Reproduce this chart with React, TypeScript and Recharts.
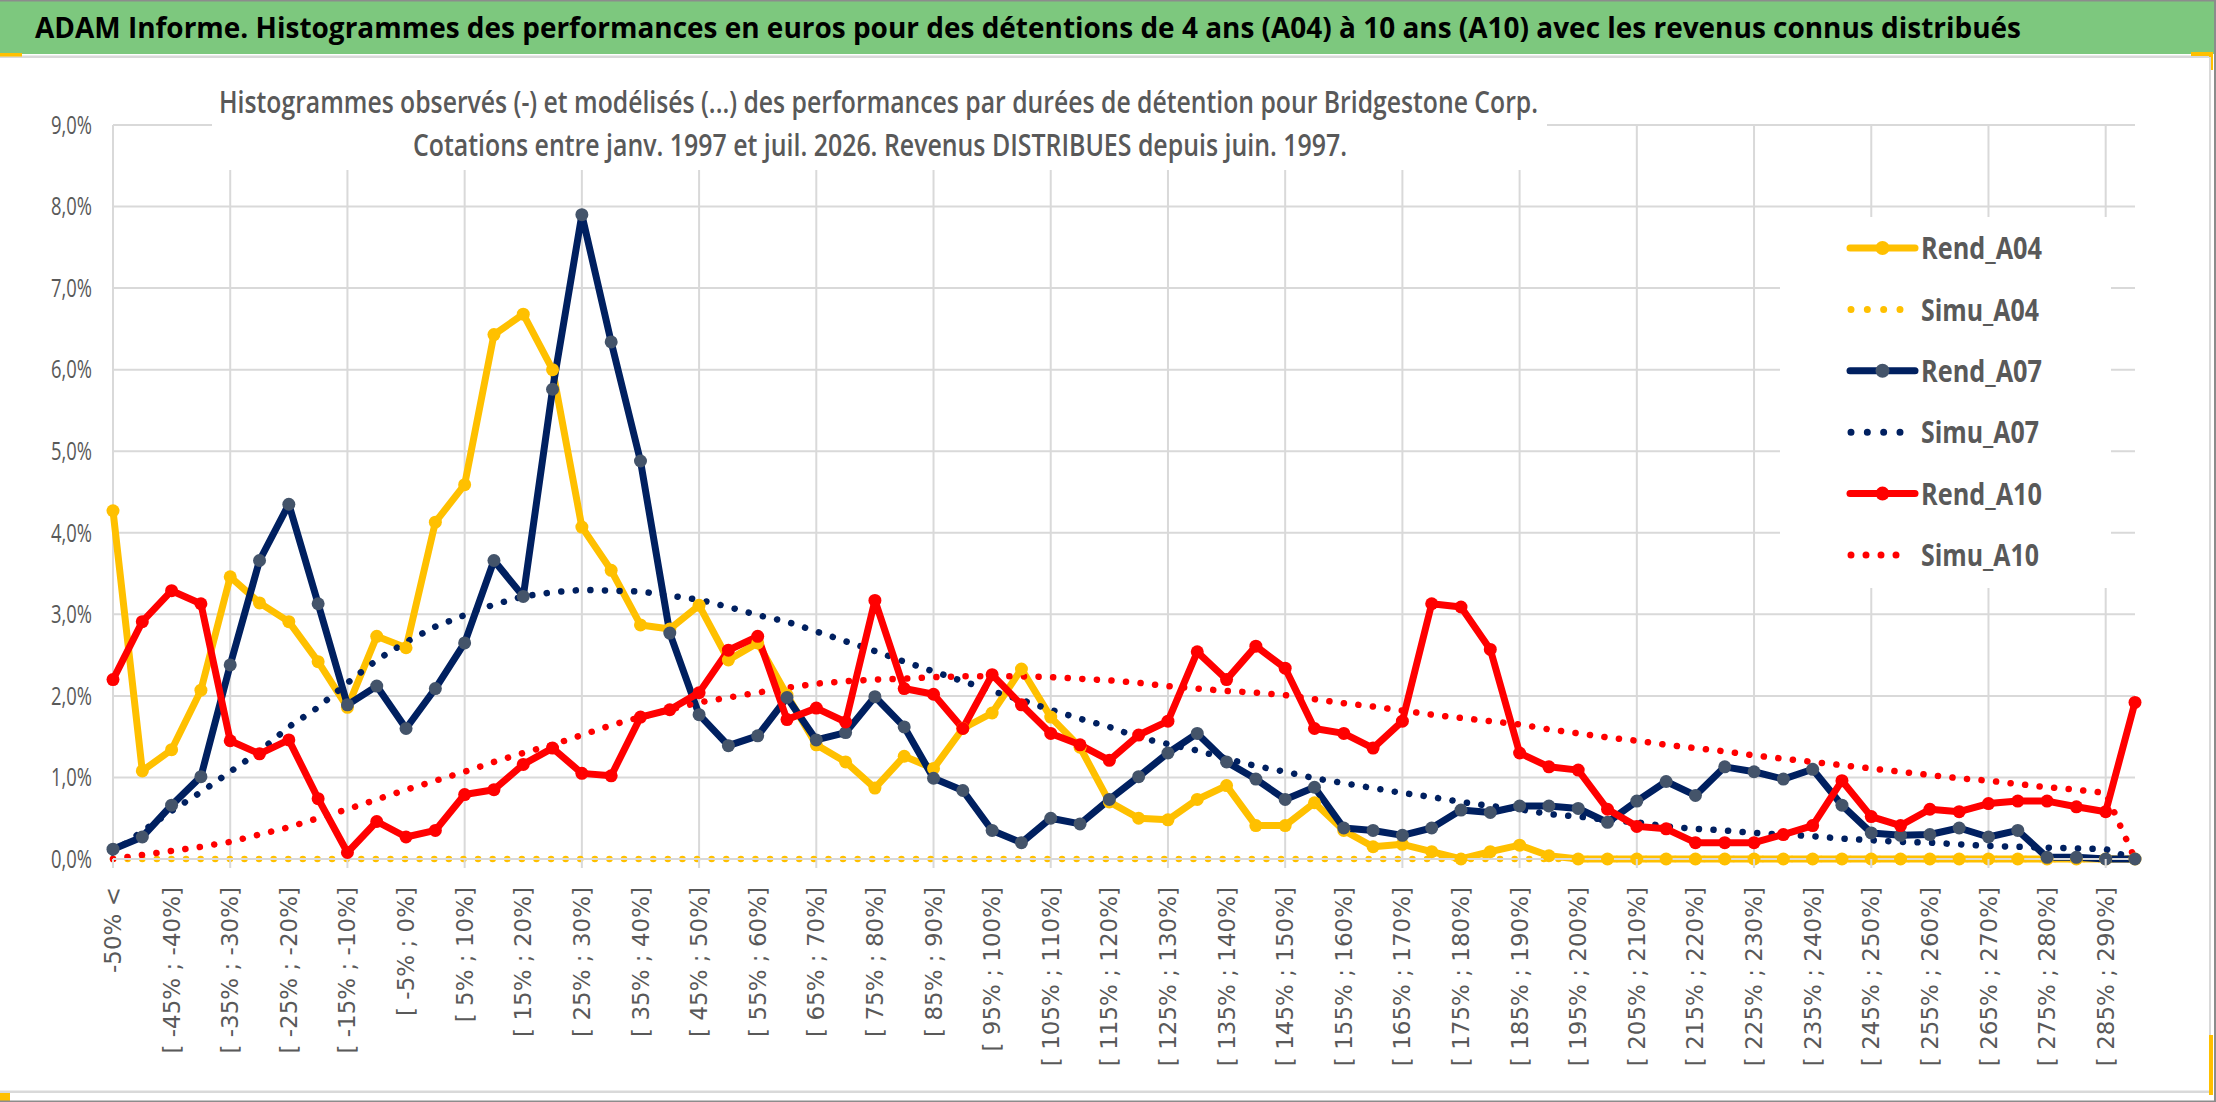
import React from 'react';
import { LineChart, Line, XAxis, YAxis, CartesianGrid, Legend } from 'recharts';

const categories = [
  '-50% <',
  '[ -50% ; -45%]', '[ -45% ; -40%]', '[ -40% ; -35%]', '[ -35% ; -30%]', '[ -30% ; -25%]',
  '[ -25% ; -20%]', '[ -20% ; -15%]', '[ -15% ; -10%]', '[ -10% ; -5%]', '[ -5% ; 0%]',
  '[ 0% ; 5%]', '[ 5% ; 10%]', '[ 10% ; 15%]', '[ 15% ; 20%]', '[ 20% ; 25%]',
  '[ 25% ; 30%]', '[ 30% ; 35%]', '[ 35% ; 40%]', '[ 40% ; 45%]', '[ 45% ; 50%]',
  '[ 50% ; 55%]', '[ 55% ; 60%]', '[ 60% ; 65%]', '[ 65% ; 70%]', '[ 70% ; 75%]',
  '[ 75% ; 80%]', '[ 80% ; 85%]', '[ 85% ; 90%]', '[ 90% ; 95%]', '[ 95% ; 100%]',
  '[ 100% ; 105%]', '[ 105% ; 110%]', '[ 110% ; 115%]', '[ 115% ; 120%]', '[ 120% ; 125%]',
  '[ 125% ; 130%]', '[ 130% ; 135%]', '[ 135% ; 140%]', '[ 140% ; 145%]', '[ 145% ; 150%]',
  '[ 150% ; 155%]', '[ 155% ; 160%]', '[ 160% ; 165%]', '[ 165% ; 170%]', '[ 170% ; 175%]',
  '[ 175% ; 180%]', '[ 180% ; 185%]', '[ 185% ; 190%]', '[ 190% ; 195%]', '[ 195% ; 200%]',
  '[ 200% ; 205%]', '[ 205% ; 210%]', '[ 210% ; 215%]', '[ 215% ; 220%]', '[ 220% ; 225%]',
  '[ 225% ; 230%]', '[ 230% ; 235%]', '[ 235% ; 240%]', '[ 240% ; 245%]', '[ 245% ; 250%]',
  '[ 250% ; 255%]', '[ 255% ; 260%]', '[ 260% ; 265%]', '[ 265% ; 270%]', '[ 270% ; 275%]',
  '[ 275% ; 280%]', '[ 280% ; 285%]', '[ 285% ; 290%]', '[ 290% ; 295%]',
];

const rendA04 = [
  4.27, 1.08, 1.34, 2.07, 3.46, 3.14, 2.91, 2.42, 1.86, 2.73,
  2.59, 4.13, 4.59, 6.43, 6.68, 6.00, 4.07, 3.54, 2.87, 2.82,
  3.11, 2.44, 2.65, 2.01, 1.40, 1.19, 0.87, 1.26, 1.11, 1.60,
  1.79, 2.33, 1.74, 1.37, 0.70, 0.50, 0.48, 0.73, 0.90, 0.41,
  0.41, 0.69, 0.35, 0.15, 0.18, 0.09, 0.00, 0.09, 0.17, 0.04,
  0.00, 0.00, 0.00, 0.00, 0.00, 0.00, 0.00, 0.00, 0.00, 0.00,
  0.00, 0.00, 0.00, 0.00, 0.00, 0.00, 0.00, 0.00, 0.00, 0.00,
];

const simuA04 = [
  0, 0, 0, 0, 0, 0, 0, 0, 0, 0,
  0, 0, 0, 0, 0, 0, 0, 0, 0, 0,
  0, 0, 0, 0, 0, 0, 0, 0, 0, 0,
  0, 0, 0, 0, 0, 0, 0, 0, 0, 0,
  0, 0, 0, 0, 0, 0, 0, 0, 0, 0,
  0, 0, 0, 0, 0, 0, 0, 0, 0, 0,
  0, 0, 0, 0, 0, 0, 0, 0, 0, 0,
];

const rendA07 = [
  0.12, 0.27, 0.66, 1.01, 2.38, 3.66, 4.35, 3.13, 1.89, 2.12,
  1.60, 2.09, 2.65, 3.66, 3.22, 5.76, 7.90, 6.34, 4.88, 2.77,
  1.77, 1.39, 1.51, 1.98, 1.46, 1.55, 1.99, 1.62, 0.99, 0.84,
  0.35, 0.20, 0.50, 0.43, 0.73, 1.01, 1.30, 1.54, 1.19, 0.98,
  0.73, 0.88, 0.38, 0.35, 0.29, 0.38, 0.60, 0.57, 0.65, 0.65,
  0.62, 0.45, 0.71, 0.95, 0.78, 1.13, 1.07, 0.98, 1.10, 0.66,
  0.32, 0.29, 0.30, 0.38, 0.27, 0.35, 0.02, 0.02, 0.00, 0.00,
];

const simuA07 = [
  0.08, 0.34, 0.59, 0.82, 1.07, 1.32, 1.62, 1.86, 2.16, 2.44,
  2.66, 2.85, 2.99, 3.12, 3.22, 3.27, 3.30, 3.29, 3.28, 3.23,
  3.18, 3.09, 2.99, 2.91, 2.79, 2.67, 2.55, 2.42, 2.30, 2.18,
  2.06, 1.95, 1.83, 1.72, 1.62, 1.49, 1.41, 1.33, 1.23, 1.14,
  1.07, 0.99, 0.93, 0.87, 0.81, 0.76, 0.70, 0.65, 0.61, 0.55,
  0.52, 0.48, 0.45, 0.40, 0.37, 0.35, 0.32, 0.30, 0.28, 0.25,
  0.23, 0.21, 0.20, 0.18, 0.16, 0.15, 0.14, 0.13, 0.12, 0.00,
];

const rendA10 = [
  2.20, 2.91, 3.29, 3.13, 1.45, 1.29, 1.46, 0.74, 0.08, 0.46,
  0.27, 0.35, 0.79, 0.85, 1.16, 1.36, 1.05, 1.02, 1.74, 1.83,
  2.04, 2.56, 2.73, 1.71, 1.85, 1.68, 3.17, 2.09, 2.02, 1.60,
  2.26, 1.89, 1.54, 1.40, 1.21, 1.52, 1.69, 2.54, 2.20, 2.61,
  2.34, 1.60, 1.54, 1.36, 1.69, 3.13, 3.09, 2.57, 1.30, 1.13,
  1.09, 0.61, 0.40, 0.37, 0.20, 0.20, 0.20, 0.30, 0.41, 0.96,
  0.52, 0.41, 0.61, 0.58, 0.68, 0.71, 0.71, 0.64, 0.58, 1.92,
];

const simuA10 = [
  0.00, 0.05, 0.10, 0.15, 0.21, 0.30, 0.39, 0.50, 0.61, 0.73,
  0.85, 0.96, 1.07, 1.19, 1.30, 1.40, 1.52, 1.64, 1.74, 1.83,
  1.92, 1.98, 2.04, 2.10, 2.15, 2.18, 2.20, 2.21, 2.23, 2.24,
  2.24, 2.24, 2.23, 2.21, 2.19, 2.16, 2.12, 2.09, 2.06, 2.04,
  2.01, 1.96, 1.91, 1.87, 1.82, 1.77, 1.73, 1.69, 1.65, 1.59,
  1.54, 1.49, 1.45, 1.40, 1.36, 1.32, 1.27, 1.23, 1.19, 1.15,
  1.11, 1.07, 1.03, 0.99, 0.96, 0.92, 0.88, 0.85, 0.81, 0.00,
];

const yTicks = [0, 1, 2, 3, 4, 5, 6, 7, 8, 9];

const titleText =
  'ADAM Informe. Histogrammes des performances en euros pour des détentions de 4 ans (A04) à 10 ans (A10) avec les revenus connus distribués';
const subtitle1 =
  'Histogrammes observés (-) et modélisés (...) des performances par durées de détention pour Bridgestone Corp.';
const subtitle2 = 'Cotations entre janv. 1997 et juil. 2026. Revenus DISTRIBUES depuis juin. 1997.';

const data = categories.map((cat, i) => ({
  cat,
  Rend_A04: rendA04[i],
  Simu_A04: simuA04[i],
  Rend_A07: rendA07[i],
  Simu_A07: simuA07[i],
  Rend_A10: rendA10[i],
  Simu_A10: simuA10[i],
}));

const W = 2216;
const H = 1102;
const GRID = '#D9D9D9';
const TXT = '#595959';
const YELLOW = '#FFC000';
const NAVY = '#002060';
const RED = '#FF0000';
const SLATE = '#44546A';
const SANS = "'Open Sans', 'Liberation Sans', sans-serif";

const seriesStyle = [
  { key: 'Rend_A04', color: YELLOW, marker: YELLOW, dotted: false, tl: 121, dotEnd: 0 },
  { key: 'Simu_A04', color: YELLOW, marker: '', dotted: true, tl: 118, dotEnd: 120 },
  { key: 'Rend_A07', color: NAVY, marker: SLATE, dotted: false, tl: 121, dotEnd: 0 },
  { key: 'Simu_A07', color: NAVY, marker: '', dotted: true, tl: 118, dotEnd: 120 },
  { key: 'Rend_A10', color: RED, marker: RED, dotted: false, tl: 121, dotEnd: 0 },
  { key: 'Simu_A10', color: RED, marker: '', dotted: true, tl: 118, dotEnd: 131 },
];

const fmtPct = (v: number) => v.toFixed(1).replace('.', ',') + '%';

const YTick = (p: any) => (
  <text
    x={p.x}
    y={p.y}
    dy="0.35em"
    textAnchor="end"
    fill={TXT}
    fontFamily={SANS}
    fontSize={25}
    textLength={41}
    lengthAdjust="spacingAndGlyphs"
  >
    {fmtPct(p.payload.value)}
  </text>
);

const XTick = (p: any) => {
  const { x, y, payload } = p;
  const idx = categories.indexOf(payload.value);
  const ty = y + 28;
  return (
    <g>
      {idx % 4 === 0 ? <line x1={x} x2={x} y1={y} y2={y + 9} stroke={GRID} strokeWidth={2} /> : null}
      <text
        x={x}
        y={ty}
        dy="0.35em"
        textAnchor="end"
        transform={`rotate(-90 ${x} ${ty})`}
        fill={TXT}
        fontFamily="'DejaVu Sans', Verdana, sans-serif"
        fontSize={23}
      >
        {payload.value}
      </text>
    </g>
  );
};

const verticalGen = (props: any) => {
  const { offset, xAxis } = props;
  const out: number[] = [];
  for (let i = 0; i < categories.length; i += 4) {
    let px: number | undefined;
    if (xAxis && typeof xAxis.scale === 'function') {
      const v = xAxis.scale(categories[i]);
      if (typeof v === 'number' && !Number.isNaN(v)) px = v;
    }
    if (px === undefined) px = offset.left + (i * offset.width) / (categories.length - 1);
    out.push(px);
  }
  return out;
};

const renderLegend = () => (
  <svg width={331} height={371} style={{ display: 'block' }}>
    {seriesStyle.map((s, k) => {
      const cy = 31 + k * 61.4;
      return (
        <g key={s.key}>
          {s.dotted ? (
            <line
              x1={71}
              x2={s.dotEnd}
              y1={cy}
              y2={cy}
              stroke={s.color}
              strokeWidth={7}
              strokeDasharray={s.dotEnd === 131 ? '0 15' : '0 16.33'}
              strokeLinecap="round"
            />
          ) : (
            <g>
              <line x1={70} x2={135} y1={cy} y2={cy} stroke={s.color} strokeWidth={7} strokeLinecap="round" />
              <circle cx={102.5} cy={cy} r={7} fill={s.marker} />
            </g>
          )}
          <text
            x={141}
            y={cy}
            dy="0.36em"
            fill={TXT}
            fontFamily={SANS}
            fontWeight={700}
            fontSize={31}
            textLength={s.tl}
            lengthAdjust="spacingAndGlyphs"
          >
            {s.key}
          </text>
        </g>
      );
    })}
  </svg>
);

export default function App() {
  return (
    <div style={{ position: 'relative', width: W, height: H, background: '#fff', overflow: 'hidden' }}>
      <style>{'body{margin:0;background:#fff}'}</style>
      <LineChart width={W} height={H} data={data} margin={{ top: 125, right: 81, left: 13, bottom: 43 }}>
        <CartesianGrid stroke={GRID} strokeWidth={2} verticalCoordinatesGenerator={verticalGen} />
        <XAxis
          dataKey="cat"
          interval={1}
          height={200}
          tickSize={0}
          tickMargin={0}
          tickLine={false}
          axisLine={{ stroke: GRID, strokeWidth: 2 }}
          tick={<XTick />}
          padding={{ left: 0, right: 0 }}
        />
        <YAxis
          type="number"
          domain={[0, 9]}
          ticks={yTicks}
          width={100}
          tickSize={0}
          tickMargin={21}
          tickLine={false}
          axisLine={false}
          tick={<YTick />}
        />
        <Legend
          layout="vertical"
          align="center"
          verticalAlign="middle"
          content={renderLegend}
          wrapperStyle={{ left: 1780, top: 217, width: 331, height: 371, background: '#fff' }}
        />
        {seriesStyle.map((s) =>
          s.dotted ? (
            <Line
              key={s.key}
              type="linear"
              dataKey={s.key}
              stroke={s.color}
              strokeWidth={6.5}
              strokeDasharray="0.1 14.5"
              strokeLinecap="round"
              dot={false}
              activeDot={false}
              isAnimationActive={false}
            />
          ) : (
            <Line
              key={s.key}
              type="linear"
              dataKey={s.key}
              stroke={s.color}
              strokeWidth={7}
              strokeLinejoin="round"
              dot={{ r: 6.5, fill: s.marker, stroke: s.marker, strokeWidth: 0 }}
              activeDot={false}
              isAnimationActive={false}
            />
          )
        )}
      </LineChart>
      <svg
        width={W}
        height={H}
        style={{ position: 'absolute', left: 0, top: 0, pointerEvents: 'none', zIndex: 2 }}
      >
        <rect x={0} y={0} width={W} height={54} fill="#7DC87E" />
        <rect x={0} y={0} width={W} height={1.5} fill="#8C8C8C" />
        <text
          x={35}
          y={38}
          fill="#000"
          fontFamily={SANS}
          fontWeight={700}
          fontSize={29}
          textLength={1986}
          lengthAdjust="spacingAndGlyphs"
        >
          {titleText}
        </text>
        <rect x={0} y={55.5} width={2211} height={2.5} fill={GRID} />
        <rect x={0} y={53} width={22} height={3.5} fill={YELLOW} />
        <rect x={2191} y={52} width={22} height={4} fill={YELLOW} />
        <rect x={2209} y={52} width={4} height={18} fill={YELLOW} />
        <rect x={2209} y={57} width={2} height={1036} fill={GRID} />
        <rect x={0} y={1090.5} width={2211} height={2.5} fill={GRID} />
        <rect x={0} y={1093} width={10} height={8} fill={YELLOW} />
        <rect x={2209} y={1035} width={4} height={60} fill={YELLOW} />
        <rect x={2214} y={0} width={2} height={H} fill="#8C8C8C" />
        <rect x={0} y={1100.5} width={W} height={1.5} fill="#8C8C8C" />
        <rect x={212} y={62} width={1335} height={108} fill="#fff" />
        <text
          x={219}
          y={113}
          fill={TXT}
          fontFamily={SANS}
          fontWeight={600}
          fontSize={31}
          textLength={1319}
          lengthAdjust="spacingAndGlyphs"
        >
          {subtitle1}
        </text>
        <text
          x={413}
          y={156}
          fill={TXT}
          fontFamily={SANS}
          fontWeight={600}
          fontSize={31}
          textLength={934}
          lengthAdjust="spacingAndGlyphs"
        >
          {subtitle2}
        </text>
      </svg>
    </div>
  );
}
